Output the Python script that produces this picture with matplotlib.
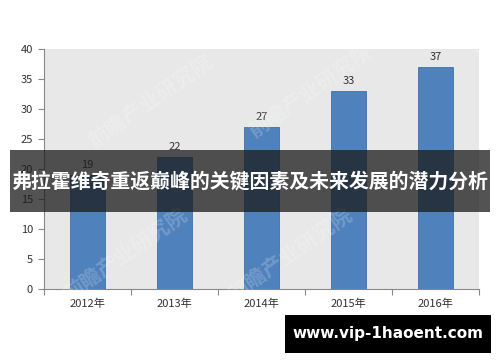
import matplotlib
matplotlib.use("Agg")
import matplotlib.pyplot as plt
from matplotlib.patches import Rectangle

plt.rcParams["font.family"] = ["Noto Sans CJK SC", "DejaVu Sans"]

# Chart data
years = ["2012年", "2013年", "2014年", "2015年", "2016年"]
values = [19, 22, 27, 33, 37]
y_ticks = [0, 5, 10, 15, 20, 25, 30, 35, 40]
title = "弗拉霍维奇重返巅峰的关键因素及未来发展的潜力分析"
site = "www.vip-1haoent.com"
watermark = "前瞻产业研究院"

fig = plt.figure(figsize=(5, 3.62), dpi=100)
fig.patch.set_facecolor("white")

ax = fig.add_axes([0.088, 0.2017, 0.87, 0.663])
ax.set_facecolor("#e8e8e8")

x = list(range(len(years)))
ax.bar(x, values, width=0.41, color="#4f81bd", edgecolor="#3f6fa8", linewidth=0.6, zorder=3)
for xi, v in zip(x, values):
    ax.text(xi, v + 0.9, str(v), ha="center", va="bottom", fontsize=8, color="#333333", zorder=4)

ax.set_xlim(-0.5, len(years) - 0.5)
ax.set_ylim(0, 40)
ax.set_yticks(y_ticks)
ax.set_xticks(x)
ax.set_xticklabels(years)
ax.set_xticks([i - 0.5 for i in range(len(years) + 1)], minor=True)
ax.tick_params(axis="x", which="major", length=0, pad=7, labelsize=8, labelcolor="#333333")
ax.tick_params(axis="x", which="minor", length=4, color="#888888", width=0.8)
ax.tick_params(axis="y", length=4, color="#888888", width=0.8, labelsize=8, labelcolor="#333333", pad=4)

for s in ["top", "right"]:
    ax.spines[s].set_visible(False)
for s in ["left", "bottom"]:
    ax.spines[s].set_color("#888888")
    ax.spines[s].set_linewidth(0.8)

# faint watermarks
for wx, wy in [(0.3, 0.72), (0.62, 0.75), (0.25, 0.3), (0.58, 0.3)]:
    fig.text(wx, wy, watermark, fontsize=15, color="white", alpha=0.2, rotation=35,
             ha="center", va="center", fontweight="bold", zorder=5)

# title banner
fig.patches.append(Rectangle((0.02, 0.414), 0.96, 0.171, transform=fig.transFigure,
                             facecolor="#1a1a1a", alpha=0.75, zorder=10))
fig.text(0.5, 0.5, title, fontsize=14.3, color="white", fontweight="bold",
         ha="center", va="center", zorder=11)

# site box
fig.patches.append(Rectangle((0.57, 0.025), 0.412, 0.105, transform=fig.transFigure,
                             facecolor="black", zorder=10))
fig.text(0.776, 0.0775, site, fontsize=11, color="white", fontweight="bold",
         ha="center", va="center", family=["DejaVu Sans"], zorder=11)

fig.savefig("out.png", dpi=100)
